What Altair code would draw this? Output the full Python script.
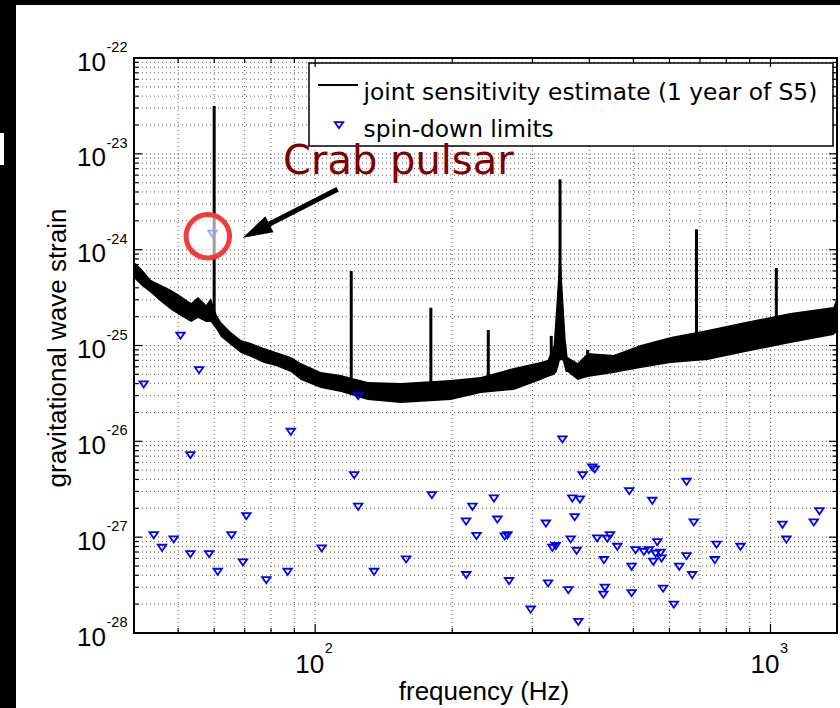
import altair as alt
import pandas as pd

# ---------------- data ----------------
# joint sensitivity estimate: noise band (Hz, upper and lower edge of the band)
curve_freq = [40.0, 41.4, 43.6, 45.9, 48.3, 50.7, 53.4, 55.3, 57.6, 59.0,
              60.8, 62.1, 65.3, 68.7, 72.3, 77.2, 82.0, 88.4, 93.0, 102.9,
              113.9, 130.5, 154.2, 198.6, 231.0, 272.9, 312.8, 324.0, 334.0, 339.2,
              345.0, 349.6, 355.0, 358.5, 377.2, 396.7, 452.4, 518.4, 603.4, 727.2,
              859.3, 1106.0, 1375.0, 1400.0]
curve_upper = [7.43e-25, 6.44e-25, 4.82e-25, 4.28e-25, 3.80e-25, 3.28e-25, 2.78e-25, 3.21e-25, 2.65e-25, 3.13e-25,
               2.08e-25, 1.76e-25, 1.38e-25, 1.14e-25, 1.06e-25, 9.41e-26, 8.55e-26, 7.59e-26, 6.57e-26, 5.29e-26,
               4.92e-26, 4.16e-26, 4.06e-26, 4.36e-26, 4.69e-26, 5.82e-26, 6.73e-26, 7.06e-26, 1.01e-25, 2.98e-25,
               1.12e-24, 3.80e-25, 1.14e-25, 7.59e-26, 6.57e-26, 8.35e-26, 7.96e-26, 1.01e-25, 1.23e-25, 1.45e-25,
               1.72e-25, 2.18e-25, 2.52e-25, 3.21e-25]
curve_lower = [5.06e-25, 4.28e-25, 3.53e-25, 2.84e-25, 2.35e-25, 2.03e-25, 1.76e-25, 1.94e-25, 1.76e-25, 1.76e-25,
               1.45e-25, 1.23e-25, 1.01e-25, 8.35e-26, 7.59e-26, 6.57e-26, 6.11e-26, 5.29e-26, 4.36e-26, 3.60e-26,
               3.27e-26, 2.70e-26, 2.51e-26, 2.70e-26, 3.19e-26, 3.43e-26, 4.36e-26, 4.69e-26, 4.92e-26, 5.29e-26,
               7.06e-26, 7.06e-26, 5.29e-26, 5.29e-26, 4.36e-26, 4.69e-26, 5.16e-26, 5.82e-26, 6.57e-26, 7.06e-26,
               8.35e-26, 1.06e-25, 1.29e-25, 1.38e-25]

# narrow instrumental lines on the sensitivity curve
line_freq = [60.0, 120.0, 179.5, 240.0, 330.0, 345.0, 396.7, 688.0, 1030.0]
line_base = [2.0e-25, 4.5e-26, 4.2e-26, 4.6e-26, 7.0e-26, 7.0e-26, 7.0e-26, 1.2e-25, 2.0e-25]
line_peak = [3.16e-23, 5.99e-25, 2.48e-25, 1.45e-25, 1.26e-25, 5.42e-24, 8.97e-26, 1.63e-24, 6.44e-25]

# spin-down limits of known pulsars (GW frequency in Hz, strain)
pulsar_freq = [42.0, 55.6, 53.2, 88.4, 124.3, 121.8, 124.3, 44.2, 46.1, 48.9,
               53.2, 58.5, 61.1, 65.5, 70.6, 69.4, 78.1, 87.0, 103.3, 134.7,
               158.4, 50.6, 59.5,
               349.1, 406.3, 411.1, 386.7, 654.1, 489.6, 180.4, 247.0, 367.1, 381.4,
               550.0, 221.5, 1281.0, 214.5, 251.3, 371.5, 678.6, 321.2, 1062.5, 1245.0,
               226.1, 260.8, 264.4, 364.0, 416.3, 438.2, 444.1, 1084.0, 331.9, 337.5,
               460.9, 564.1, 761.3, 859.4, 375.2, 505.4, 527.2, 540.6, 573.6, 559.3,
               654.1, 430.8, 754.8, 552.9, 576.5, 495.5, 630.5, 673.2, 214.7, 266.6,
               324.8, 359.8, 433.0, 429.5, 495.5, 580.9, 613.4, 297.4, 378.4]
pulsar_h = [3.94e-26, 5.55e-26, 7.20e-27, 1.26e-26, 2.97e-26, 4.45e-27, 2.08e-27, 1.05e-27, 7.76e-28, 9.50e-28,
            6.67e-28, 6.67e-28, 4.36e-28, 1.05e-27, 1.66e-27, 5.47e-28, 3.57e-28, 4.36e-28, 7.65e-28, 4.36e-28,
            5.87e-28, 1.27e-25, 1.47e-24,
            1.05e-26, 5.36e-27, 5.11e-27, 4.45e-27, 3.79e-27, 3.03e-27, 2.75e-27, 2.54e-27, 2.54e-27, 2.48e-27,
            2.40e-27, 2.08e-27, 1.87e-27, 1.46e-27, 1.53e-27, 1.62e-27, 1.43e-27, 1.39e-27, 1.35e-27, 1.43e-27,
            1.03e-27, 1.02e-27, 1.05e-27, 9.50e-28, 9.73e-28, 9.68e-28, 1.05e-27, 9.46e-28, 7.76e-28, 8.09e-28,
            7.95e-28, 8.90e-28, 8.38e-28, 7.95e-28, 7.22e-28, 7.34e-28, 7.05e-28, 7.34e-28, 6.89e-28, 6.75e-28,
            6.35e-28, 5.78e-28, 5.78e-28, 5.55e-28, 6.01e-28, 4.92e-28, 4.92e-28, 4.03e-28, 4.03e-28, 3.49e-28,
            3.30e-28, 2.81e-28, 2.98e-28, 2.52e-28, 2.61e-28, 2.91e-28, 1.98e-28, 1.76e-28, 1.31e-28]

# Crab pulsar annotation (circle centre, arrow tail / shaft end / tip) in data units
crab_circle = {"f": [58.1], "h": [1.38e-24]}
arrow_shaft = {"f": [112.0], "h": [4.27e-24], "f2": [75.9], "h2": [1.66e-24]}
arrow_tip = {"f": [69.3], "h": [1.33e-24]}

# axes ticks / labels
x_major = [100, 1000]
x_major_exp = ["2", "3"]
x_minor = [50, 60, 70, 80, 90, 200, 300, 400, 500, 600, 700, 800, 900]
y_major = [1e-28, 1e-27, 1e-26, 1e-25, 1e-24, 1e-23, 1e-22]
y_major_exp = ["-28", "-27", "-26", "-25", "-24", "-23", "-22"]
y_minor = [m * 10.0 ** e for e in range(-28, -22) for m in range(2, 10)]

legend_labels = ["joint sensitivity estimate (1 year of S5)", "spin-down limits"]

# ---------------- chart ----------------
W, H = 703, 575
xs = alt.Scale(type="log", domain=[40, 1400])
ys = alt.Scale(type="log", domain=[1e-28, 1e-22])
TRI = "M-1,-0.7L1,-0.7L0,0.75Z"
ARROW = "M0,0L0.6,2L-0.6,2Z"
AX_FONT = "Liberation Sans"
LG_FONT = "DejaVu Sans"


def xq(f):
    return alt.X(f"{f}:Q", scale=xs, axis=None)


def yq(f):
    return alt.Y(f"{f}:Q", scale=ys, axis=None)


one = pd.DataFrame({"k": [0]})


def box(x1, x2, y1, y2, **kw):
    return alt.Chart(one).mark_rect(**kw).encode(
        x=alt.value(x1), x2=alt.value(x2), y=alt.value(y1), y2=alt.value(y2))


layers = []
# surrounding black frame of the slide
layers.append(box(-134, -118, -58, 650, color="black"))
layers.append(box(-134, 706, -58, -53, color="black"))
layers.append(box(-134, -130, 75, 107, color="white"))

# dotted grid
xg = pd.DataFrame({"v": x_minor + x_major})
yg = pd.DataFrame({"v": y_minor + y_major})
grid_style = dict(color="#333333", strokeWidth=1, strokeDash=[1, 3], opacity=0.8)
layers.append(alt.Chart(xg).mark_rule(**grid_style).encode(
    x=xq("v"), y=alt.value(0), y2=alt.value(H)))
layers.append(alt.Chart(yg).mark_rule(**grid_style).encode(
    y=yq("v"), x=alt.value(0), x2=alt.value(W)))

# sensitivity curve
curve = pd.DataFrame({"f": curve_freq, "hi": curve_upper, "lo": curve_lower})
layers.append(alt.Chart(curve).mark_area(color="black", opacity=1).encode(
    x=xq("f"), y=yq("hi"), y2="lo:Q"))
lines = pd.DataFrame({"f": line_freq, "b": line_base, "p": line_peak})
layers.append(alt.Chart(lines).mark_rule(color="black", strokeWidth=3).encode(
    x=xq("f"), y=yq("p"), y2="b:Q"))

# spin-down limits
pulsars = pd.DataFrame({"f": pulsar_freq, "h": pulsar_h})
layers.append(alt.Chart(pulsars).mark_point(
    shape=TRI, size=72, filled=False, color="#0000ff", strokeWidth=1.8, opacity=1).encode(
    x=xq("f"), y=yq("h")))

# Crab annotation
layers.append(alt.Chart(pd.DataFrame(crab_circle)).mark_point(
    shape="circle", size=1886, filled=True, fill="white", fillOpacity=0.62,
    stroke="#f23b3b", strokeWidth=5, strokeOpacity=1, opacity=1).encode(
    x=xq("f"), y=yq("h")))
layers.append(alt.Chart(pd.DataFrame(arrow_shaft)).mark_rule(
    color="black", strokeWidth=5).encode(x=xq("f"), y=yq("h"), x2="f2:Q", y2="h2:Q"))
layers.append(alt.Chart(pd.DataFrame(arrow_tip)).mark_point(
    shape=ARROW, size=900, angle=243.2, filled=True, color="black", opacity=1).encode(
    x=xq("f"), y=yq("h")))

# legend
layers.append(box(175, 699, 5, 88, fill="white", stroke="black", strokeWidth=1.5))
layers.append(alt.Chart(one).mark_rule(color="black", strokeWidth=2).encode(
    x=alt.value(184), x2=alt.value(224), y=alt.value(27)))
layers.append(alt.Chart(one).mark_point(
    shape=TRI, size=72, filled=False, color="#0000ff", strokeWidth=1.8, opacity=1).encode(
    x=alt.value(205), y=alt.value(67)))
lg = pd.DataFrame({"t": legend_labels, "y": [41.5, 79.0]})
layers.append(alt.Chart(lg).mark_text(
    font=LG_FONT, fontSize=23.3, align="left", baseline="alphabetic", color="black").encode(
    x=alt.value(229.5), y=alt.Y("y:Q", scale=None, axis=None), text="t:N"))

layers.append(alt.Chart(one).mark_text(
    text="Crab pulsar", font=LG_FONT, fontSize=40, align="left", baseline="alphabetic",
    color="#800000").encode(x=alt.value(149), y=alt.value(116)))

# inward ticks on all four sides
tick_style = dict(color="black", strokeWidth=1.2)
xM = pd.DataFrame({"v": x_major})
xm = pd.DataFrame({"v": x_minor})
yM = pd.DataFrame({"v": y_major})
ym = pd.DataFrame({"v": y_minor})
for d, L in ((xM, 9), (xm, 5)):
    layers.append(alt.Chart(d).mark_rule(**tick_style).encode(
        x=xq("v"), y=alt.value(H), y2=alt.value(H - L)))
    layers.append(alt.Chart(d).mark_rule(**tick_style).encode(
        x=xq("v"), y=alt.value(0), y2=alt.value(L)))
for d, L in ((yM, 8), (ym, 4.5)):
    layers.append(alt.Chart(d).mark_rule(**tick_style).encode(
        y=yq("v"), x=alt.value(0), x2=alt.value(L)))
    layers.append(alt.Chart(d).mark_rule(**tick_style).encode(
        y=yq("v"), x=alt.value(W), x2=alt.value(W - L)))

# plot border
layers.append(box(0, W, 0, H, fill="white", fillOpacity=0, stroke="black", strokeWidth=2))

# tick labels (10 with superscript exponent)
ylab = pd.DataFrame({"v": y_major, "e": y_major_exp})
layers.append(alt.Chart(ylab).mark_text(
    text="10", font=AX_FONT, fontSize=26, align="right", baseline="alphabetic", dy=12.5,
    color="black").encode(x=alt.value(-28), y=yq("v")))
layers.append(alt.Chart(ylab).mark_text(
    font=AX_FONT, fontSize=14.5, align="left", baseline="alphabetic", dy=-6,
    color="black").encode(x=alt.value(-27.5), y=yq("v"), text="e:N"))
xlab = pd.DataFrame({"v": x_major, "e": x_major_exp})
layers.append(alt.Chart(xlab).mark_text(
    text="10", font=AX_FONT, fontSize=26, align="right", baseline="alphabetic", dx=9,
    color="black").encode(x=xq("v"), y=alt.value(615.3)))
layers.append(alt.Chart(xlab).mark_text(
    font=AX_FONT, fontSize=14.5, align="left", baseline="alphabetic", dx=9.5,
    color="black").encode(x=xq("v"), y=alt.value(595), text="e:N"))

# axis titles
layers.append(alt.Chart(one).mark_text(
    text="frequency (Hz)", font=AX_FONT, fontSize=26, align="center", baseline="alphabetic",
    color="black").encode(x=alt.value(350), y=alt.value(642)))
layers.append(alt.Chart(one).mark_text(
    text="gravitational wave strain", font=AX_FONT, fontSize=26, align="center",
    baseline="alphabetic", angle=270, color="black").encode(x=alt.value(-68), y=alt.value(290)))

chart = alt.layer(*layers).properties(
    width=W, height=H,
    padding={"left": 134, "top": 58, "right": 3, "bottom": 75},
    autosize=alt.AutoSizeParams(type="none"),
    background="white",
).configure_view(stroke=None)

chart.save("out.html", embed_options={"renderer": "svg", "actions": False})
